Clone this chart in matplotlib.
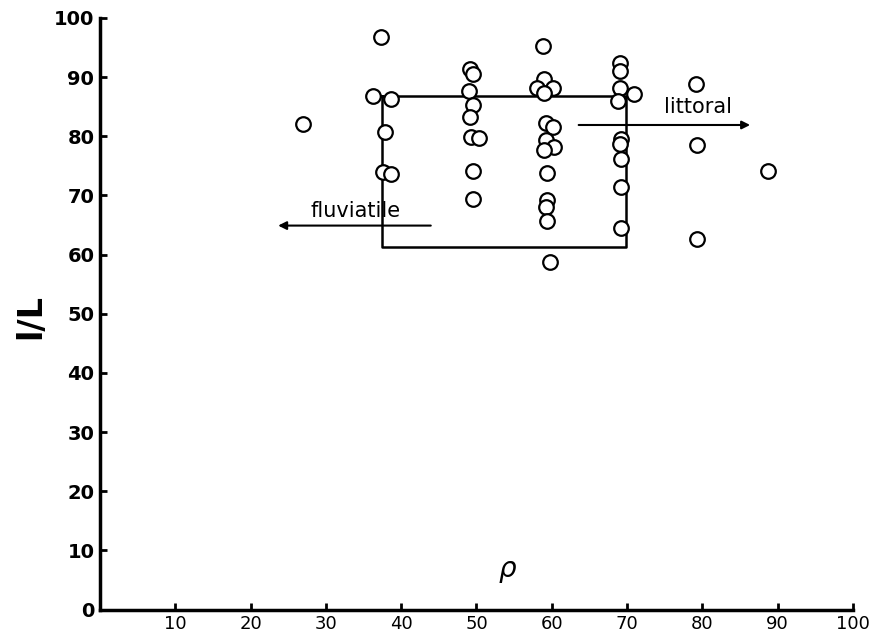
import matplotlib
matplotlib.use('Agg')
import matplotlib.pyplot as plt

# Valores (rho, l/L)
rho = [27.0,
       37.3, 36.3, 38.7, 37.8, 37.6, 38.6,
       49.1, 49.5, 49.0, 49.6, 49.2, 49.3, 50.3, 49.5, 49.5,
       58.8, 59.0, 58.0, 60.1, 59.0, 59.2, 60.1, 59.2, 60.3, 59.0, 59.3, 59.4, 59.2, 59.3, 59.8,
       69.1, 69.1, 69.0, 70.9, 68.8, 69.2, 69.1, 69.2, 69.2, 69.2,
       79.2, 79.3, 79.3, 88.7]
lL = [82.1,
      96.7, 86.8, 86.3, 80.8, 74.0, 73.6,
      91.3, 90.5, 87.7, 85.3, 83.3, 79.8, 79.7, 74.2, 69.4,
      95.2, 89.6, 88.1, 88.1, 87.3, 82.3, 81.5, 79.3, 78.2, 77.7, 73.8, 69.3, 68.0, 65.6, 58.7,
      92.3, 91.1, 88.1, 87.2, 85.9, 79.5, 78.7, 76.1, 71.4, 64.5,
      88.8, 78.5, 62.6, 74.2]

# Rectángulo de la zona
caja_x = [37.4, 69.8]
caja_y = [61.2, 86.8]

ticks_x = [10, 20, 30, 40, 50, 60, 70, 80, 90, 100]
ticks_y = [0, 10, 20, 30, 40, 50, 60, 70, 80, 90, 100]

fig = plt.figure(figsize=(8.84, 6.39), dpi=100)
ax = fig.add_axes([0.113, 0.046, 0.852, 0.926])

# Caja
ax.plot([caja_x[0], caja_x[1], caja_x[1], caja_x[0], caja_x[0]],
        [caja_y[1], caja_y[1], caja_y[0], caja_y[0], caja_y[1]],
        color='black', linewidth=1.8, zorder=1)

# Puntos
ax.plot(rho, lL, linestyle='none', marker='o', markersize=10.5,
        markerfacecolor='white', markeredgecolor='black', markeredgewidth=1.6, zorder=3)

# Flechas y textos
ax.annotate('', xy=(23.3, 64.9), xytext=(44.3, 64.9),
            arrowprops=dict(arrowstyle='-|>', color='black', lw=1.5, mutation_scale=12))
ax.text(33.9, 65.7, 'fluviatile', ha='center', va='bottom', fontsize=15)
ax.annotate('', xy=(86.7, 81.9), xytext=(63.2, 81.9),
            arrowprops=dict(arrowstyle='-|>', color='black', lw=1.5, mutation_scale=12))
ax.text(79.4, 83.3, 'littoral', ha='center', va='bottom', fontsize=15)

ax.text(54.1, 6.5, r'$\rho$', ha='center', va='center', fontsize=20)

ax.set_xlim(0, 100)
ax.set_ylim(0, 100)
ax.set_xticks(ticks_x)
ax.set_yticks(ticks_y)
ax.set_xticklabels([str(t) for t in ticks_x], fontsize=13)
ax.set_yticklabels([str(t) for t in ticks_y], fontsize=14, fontweight='bold')
ax.tick_params(direction='in', length=5, width=2, pad=4)

for lado in ['top', 'right']:
    ax.spines[lado].set_visible(False)
for lado in ['left', 'bottom']:
    ax.spines[lado].set_linewidth(2.5)

fig.text(0.035, 0.505, 'l/L', rotation=90, ha='center', va='center',
         fontsize=24, fontweight='bold')

plt.savefig('out.png', dpi=100)
plt.close()
